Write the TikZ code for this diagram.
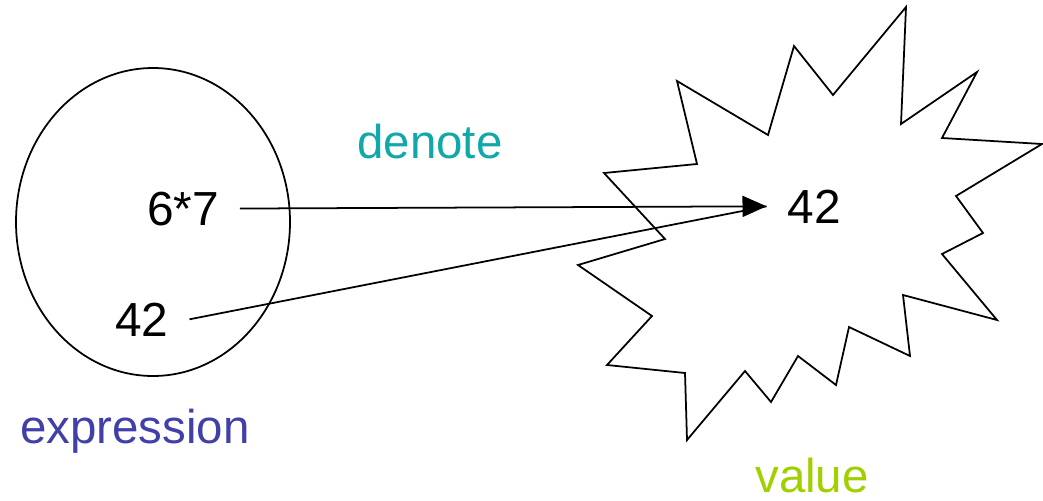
\documentclass[tikz,border=0pt]{standalone}
\usepackage{fontspec}
\setmainfont{Liberation Sans}
\usepackage{tikz}
\usetikzlibrary{arrows.meta}

\definecolor{denotecol}{HTML}{10A8A8}
\definecolor{exprcol}{HTML}{4040A8}
\definecolor{valcol}{HTML}{A0D000}

\begin{document}
\begin{tikzpicture}[x=0.01cm, y=-0.01cm, line width=0.5pt,
    term/.style={inner xsep=0.2cm, inner ysep=0pt, anchor=base, font=\fontsize{13.6}{16}\selectfont},
    word/.style={inner sep=0pt, anchor=base, font=\fontsize{13.5}{16}\selectfont}]
  \useasboundingbox (0,0) rectangle (1043,500);
  % expression side
  \draw (153,222) ellipse (137 and 154);
  \node[term] (prod) at (183,225) {6*7};
  \node[term] (lit) at (142,336) {42};
  \node[word, text=exprcol] (expr) at (135,443) {expression};
  % value side
  \draw[line join=miter] (677,81) -- (768,135) -- (794,46) -- (833,95) -- (906,7) -- (901,124)
    -- (977,72) -- (942,138) -- (1042,144) -- (956,196) -- (983,233) -- (942,254)
    -- (997,320) -- (903,295) -- (910,356) -- (849,327) -- (836,385) -- (798,356)
    -- (771,402) -- (745,371) -- (687,440) -- (685,373) -- (607,365) -- (652,316)
    -- (578,265) -- (665,239) -- (604,173) -- (697,164) -- cycle;
  \node[term] (val) at (814,223) {42};
  \node[word, text=valcol] (valname) at (812,492) {value};
  % denotation
  \node[word, text=denotecol] (den) at (430,158) {denote};
  \draw[-{Triangle[length=2.4mm,width=2.1mm]}] (prod.east) -- (val.west);
  \draw (lit.east) -- (val.west);
\end{tikzpicture}
\end{document}
